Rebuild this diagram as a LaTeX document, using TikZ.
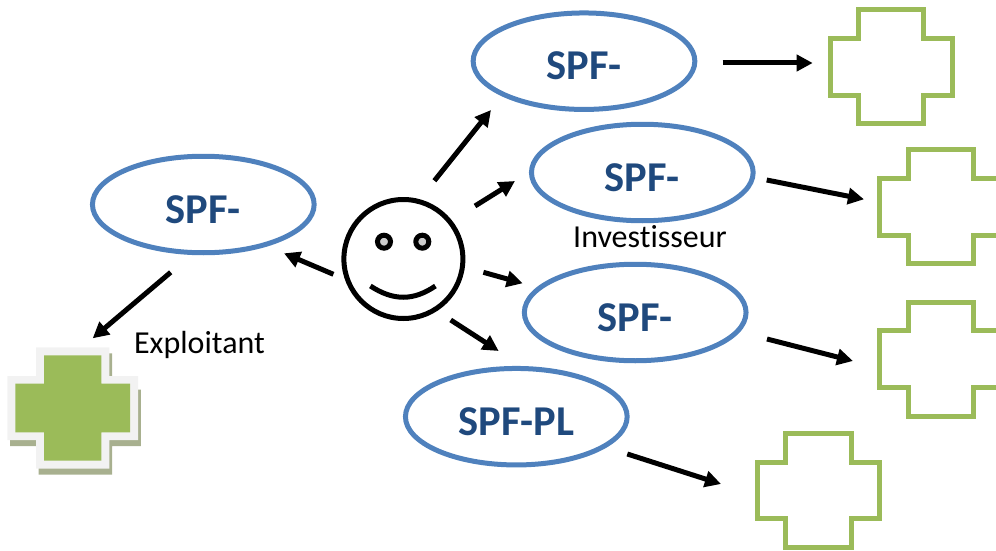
\documentclass[tikz,border=0pt]{standalone}
\usepackage{fontspec}
\setmainfont[Ligatures=NoCommon]{Carlito}
\usetikzlibrary{arrows.meta,calc,shapes.geometric}

\definecolor{spfblue}{HTML}{4F81BD}
\definecolor{spftext}{HTML}{1F497D}
\definecolor{plusgreen}{HTML}{9BBB59}
\definecolor{plusshade}{HTML}{A8B08F}
\definecolor{plusrim}{HTML}{F2F2F2}
\tikzset{
  spf/.style={ellipse,draw=spfblue,line width=5pt,minimum width=221.7pt,minimum height=96.5pt,
    inner sep=0pt,text=spftext,text height=37pt,text depth=0pt,font=\fontsize{42.5}{44}\selectfont\bfseries},
  word/.style={inner sep=0pt,font=\fontsize{32}{34}\selectfont},
  arr/.style={line width=5pt,-{Triangle[length=16pt,width=16pt]}},
  plusbox/.style={inner sep=0pt,minimum width=127pt,minimum height=119pt},
}

\newcommand{\plusnode}[3]{%
  \node[plusbox] (#1) at (#2,#3) {};
  \draw[plusgreen,line width=5pt,shift={(#2,#3)}]
    (-61.2,-28.3) -- (-32.7,-28.3) -- (-32.7,-57) -- (32.7,-57) -- (32.7,-28.3) -- (61.2,-28.3)
    -- (61.2,28.3) -- (32.7,28.3) -- (32.7,57) -- (-32.7,57) -- (-32.7,28.3) -- (-61.2,28.3) -- cycle;
}

\begin{document}
\begin{tikzpicture}[x=1pt,y=-1pt]
  \useasboundingbox (0,0) rectangle (996,551);

  \node[spf] (SPFe) at (203.3,204.5) {SPF-};
  \node[spf] (SPFa) at (584,61.2)    {SPF-};
  \node[spf] (SPFb) at (642.3,172.5) {SPF-};
  \node[spf] (SPFc) at (635.2,312.5) {SPF-};
  \node[spf] (SPFd) at (516.3,416.7) {SPF-PL};

  \node[word] (Inv) at (650,237) {Investisseur};
  \node[word] (Exp) at (199.5,345) {Exploitant};

  % face
  \node[circle,draw=black,line width=5pt,minimum size=119pt,inner sep=0pt] (face) at (403.4,259) {};
  \node[circle,draw=black,fill=black!20,line width=5pt,minimum size=13pt,inner sep=0pt] (eyeL) at (384,241.7) {};
  \node[circle,draw=black,fill=black!20,line width=5pt,minimum size=13pt,inner sep=0pt] (eyeR) at (422.3,241.7) {};
  \draw[line width=5pt] ($(face)+(-33,27)$) .. controls ($(face)+(-10,42)$) and ($(face)+(10,42)$) .. ($(face)+(32,27)$);

  % crosses
  \plusnode{plusA}{891.2}{66.7}
  \plusnode{plusB}{940.9}{206.8}
  \plusnode{plusC}{940.9}{359}
  \plusnode{plusD}{818.5}{490.5}
  \node[plusbox] (plusE) at (72.7,408) {};
  \begin{scope}[shift={(72.7,408)}]
    \fill[plusshade,shift={(2.7,6)}]
      (-65.4,-24.3) -- (-36.7,-24.3) -- (-36.7,-60.7) -- (36.7,-60.7) -- (36.7,-24.3) -- (65.4,-24.3)
      -- (65.4,32) -- (36.7,32) -- (36.7,60.7) -- (-36.7,60.7) -- (-36.7,32) -- (-65.4,32) -- cycle;
    \fill[plusrim]
      (-65.4,-32) -- (-36.7,-32) -- (-36.7,-60.7) -- (36.7,-60.7) -- (36.7,-32) -- (65.4,-32)
      -- (65.4,32) -- (36.7,32) -- (36.7,60.7) -- (-36.7,60.7) -- (-36.7,32) -- (-65.4,32) -- cycle;
    \fill[plusgreen]
      (-57.4,-24.3) -- (-28.7,-24.3) -- (-28.7,-52.7) -- (28.7,-52.7) -- (28.7,-24.3) -- (57.4,-24.3)
      -- (57.4,24.3) -- (28.7,24.3) -- (28.7,52.7) -- (-28.7,52.7) -- (-28.7,24.3) -- (-57.4,24.3) -- cycle;
  \end{scope}

  \draw[arr] ($(face)+(31,-78.3)$)   -- ($(SPFa)+(-93,48.8)$);
  \draw[arr] ($(face)+(71.6,-53)$)   -- ($(SPFb)+(-127.3,8.5)$);
  \draw[arr] ($(face)+(80,13.3)$)    -- ($(SPFc)+(-112.5,-29.2)$);
  \draw[arr] ($(face)+(47.3,61)$)    -- ($(SPFd)+(-17.6,-65.7)$);
  \draw[arr] ($(face)+(-70,15.3)$)   -- ($(SPFe)+(80.7,48.8)$);
  \draw[arr] ($(SPFe)+(-32.6,67.8)$) -- ($(plusE)+(20,-69.7)$);
  \draw[arr] ($(SPFa)+(138.7,1.8)$)  -- ($(plusA)+(-78.5,-3.7)$);
  \draw[arr] ($(SPFb)+(124.4,7.5)$)  -- ($(plusB)+(-76.9,-7.5)$);
  \draw[arr] ($(SPFc)+(131.8,26.5)$) -- ($(plusC)+(-87.9,2)$);
  \draw[arr] ($(SPFd)+(111,37.3)$)   -- ($(plusD)+(-97.5,-6.5)$);
\end{tikzpicture}
\end{document}
